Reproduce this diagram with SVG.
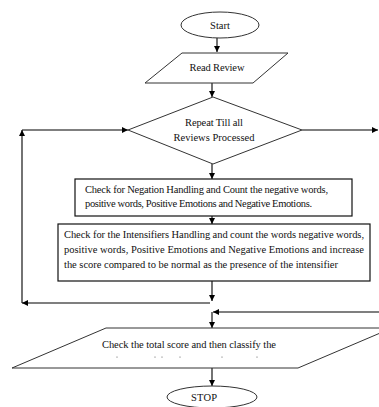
<svg xmlns="http://www.w3.org/2000/svg" width="379" height="407" viewBox="0 0 379 407">
<defs>
<marker id="ah" markerWidth="6" markerHeight="6" refX="6" refY="3" orient="auto" markerUnits="userSpaceOnUse">
<path d="M0,0 L6,3 L0,6 z" fill="#000"/>
</marker>
<style>
.sh{fill:#fff;stroke:#333;stroke-width:1}
.bx{fill:#fff;stroke:#111;stroke-width:1.2}
.t{font-family:"Liberation Serif","Times New Roman",serif;font-size:10.5px;fill:#111}
.c{text-anchor:middle}
.ln{fill:none;stroke:#000;stroke-width:1.1}
.a{marker-end:url(#ah)}
</style>
</defs>
<rect width="379" height="407" fill="#fff"/>
<g id="connectors">
<line class="ln a" x1="217" y1="38" x2="217" y2="52"/>
<line class="ln a" x1="212" y1="83" x2="212" y2="97"/>
<line class="ln a" x1="212" y1="164" x2="212" y2="179"/>
<line class="ln a" x1="212" y1="216" x2="212" y2="224"/>
<line class="ln a" x1="212" y1="281" x2="212" y2="301"/>
<polyline class="ln a" points="210,303 22,303"/>
<line class="ln a" x1="22" y1="303" x2="22" y2="130"/>
<line class="ln a" x1="22" y1="130" x2="128" y2="130"/>
<line class="ln a" x1="302" y1="130" x2="378" y2="130"/>
<line class="ln a" x1="379" y1="312" x2="213" y2="312"/>
<line class="ln a" x1="212" y1="312" x2="212" y2="328"/>
<line class="ln a" x1="212" y1="368" x2="212" y2="386"/>
</g>
<g id="start">
<ellipse class="sh" cx="220" cy="25" rx="39" ry="13"/>
<text class="t c" x="220" y="29" font-size="11">Start</text>
</g>
<g id="read-review">
<polygon class="sh" points="182,53 288,53 253,83 145,83"/>
<text class="t c" x="217" y="71" textLength="55">Read Review</text>
</g>
<g id="repeat">
<polygon class="sh" points="213,97 302,130 213,164 128,130"/>
<text class="t c" x="214" y="125.5" textLength="58">Repeat Till all</text>
<text class="t c" x="214" y="140.5" textLength="81">Reviews Processed</text>
</g>
<g id="negation">
<rect class="bx" x="75" y="179" width="277" height="37"/>
<text class="t" x="85" y="193" textLength="243">Check for Negation Handling and Count the negative words,</text>
<text class="t" x="85" y="207" textLength="227">positive words, Positive Emotions and Negative Emotions.</text>
</g>
<g id="intensifier">
<rect class="bx" x="58" y="224" width="312" height="57"/>
<text class="t" x="64" y="237.5" textLength="300">Check for the Intensifiers Handling and count the words negative words,</text>
<text class="t" x="64" y="252.5" textLength="300">positive words, Positive Emotions and Negative Emotions and increase</text>
<text class="t" x="64" y="268" textLength="274">the score compared to be normal as the presence of the intensifier</text>
</g>
<g id="classify">
<polygon class="sh" points="106,328 392,328 298,368 12,368"/>
<text class="t c" x="189" y="348" textLength="174">Check the total score and then classify the</text>
<g fill="#555">
<circle cx="117" cy="357" r="0.6"/><circle cx="155" cy="357" r="0.6"/><circle cx="162" cy="357" r="0.6"/><circle cx="180" cy="357" r="0.6"/><circle cx="222" cy="357" r="0.6"/><circle cx="257" cy="357" r="0.6"/>
</g>
</g>
<g id="stop">
<ellipse class="sh" cx="212" cy="397" rx="45" ry="11"/>
<text class="t c" x="204" y="401" textLength="26">STOP</text>
</g>
</svg>
